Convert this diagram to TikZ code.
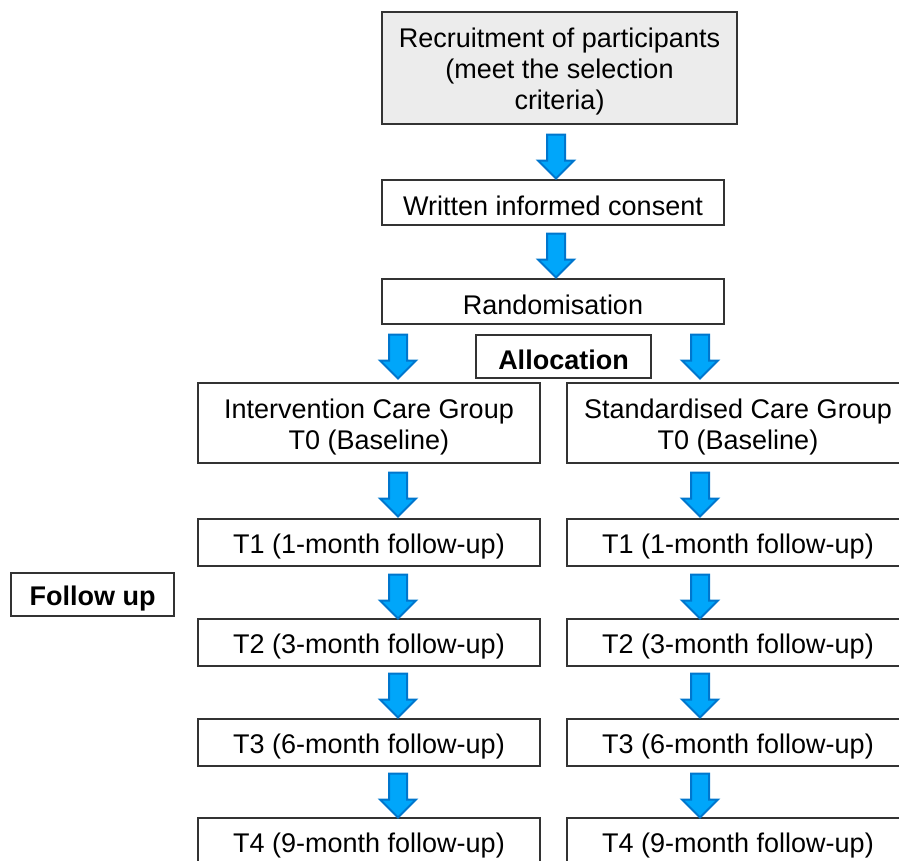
\documentclass[tikz,border=0pt]{standalone}
\usepackage{fontspec}
\setmainfont{Liberation Sans}
\usetikzlibrary{shapes.arrows}

\definecolor{arrowfill}{RGB}{0,166,250}
\definecolor{arrowline}{RGB}{0,118,205}
\definecolor{boxgray}{RGB}{236,236,236}

\newcommand{\topstrut}{\rule{0pt}{27pt}}

\tikzset{
  box/.style={draw=black!80, line width=1.2pt, align=center, inner sep=0pt,
    font=\fontsize{27}{31}\selectfont, execute at begin node=\topstrut},
  downarrow/.style={single arrow, draw=arrowline, fill=arrowfill, line width=2pt,
    rotate=-90, minimum height=44pt, inner sep=8pt,
    single arrow head extend=9pt, single arrow head indent=0pt}
}

\begin{document}
\begin{tikzpicture}[x=1pt,y=-1pt]
\useasboundingbox (0,0) rectangle (899,860);
\clip (0,0) rectangle (899,860);

% main column
\node[box, fill=boxgray, minimum width=355pt, minimum height=112pt] (recruit) at (559.5,68)
  {\topstrut Recruitment of participants\\(meet the selection\\criteria)};
\node[box, minimum width=342pt, minimum height=45pt] (consent) at (553,202.5) {Written informed consent};
\node[box, minimum width=342pt, minimum height=45pt] (random) at (553,301.5) {Randomisation};
\node[box, minimum width=175pt, minimum height=43pt, font=\fontsize{27}{31}\selectfont\bfseries] (alloc) at (563.5,356.5) {Allocation};

% two groups
\node[box, minimum width=342pt, minimum height=80pt] (interv) at (369,423) {\topstrut Intervention Care Group\\T0 (Baseline)};
\node[box, minimum width=342pt, minimum height=80pt] (stand) at (738,423) {\topstrut Standardised Care Group\\T0 (Baseline)};

\node[box, minimum width=342pt, minimum height=47pt] (lt1) at (369,542.5) {T1 (1-month follow-up)};
\node[box, minimum width=342pt, minimum height=47pt] (rt1) at (738,542.5) {T1 (1-month follow-up)};
\node[box, minimum width=342pt, minimum height=47pt] (lt2) at (369,642.5) {T2 (3-month follow-up)};
\node[box, minimum width=342pt, minimum height=47pt] (rt2) at (738,642.5) {T2 (3-month follow-up)};
\node[box, minimum width=342pt, minimum height=47pt] (lt3) at (369,742.5) {T3 (6-month follow-up)};
\node[box, minimum width=342pt, minimum height=47pt] (rt3) at (738,742.5) {T3 (6-month follow-up)};
\node[box, minimum width=342pt, minimum height=48pt] (lt4) at (369,842) {T4 (9-month follow-up)};
\node[box, minimum width=342pt, minimum height=48pt] (rt4) at (738,842) {T4 (9-month follow-up)};

\node[box, minimum width=163pt, minimum height=43pt, font=\fontsize{27}{31}\selectfont\bfseries] (follow) at (92.5,594.5) {Follow up};

% block arrows
\foreach \x/\y [count=\i] in {556/152, 556/251, 398/352, 700/352, 398/490, 700/490,
                              398/592, 700/592, 398/691, 700/691, 398/791, 700/791}
  \node[downarrow] (arr\i) at (\x,\y) {};
\end{tikzpicture}
\end{document}
